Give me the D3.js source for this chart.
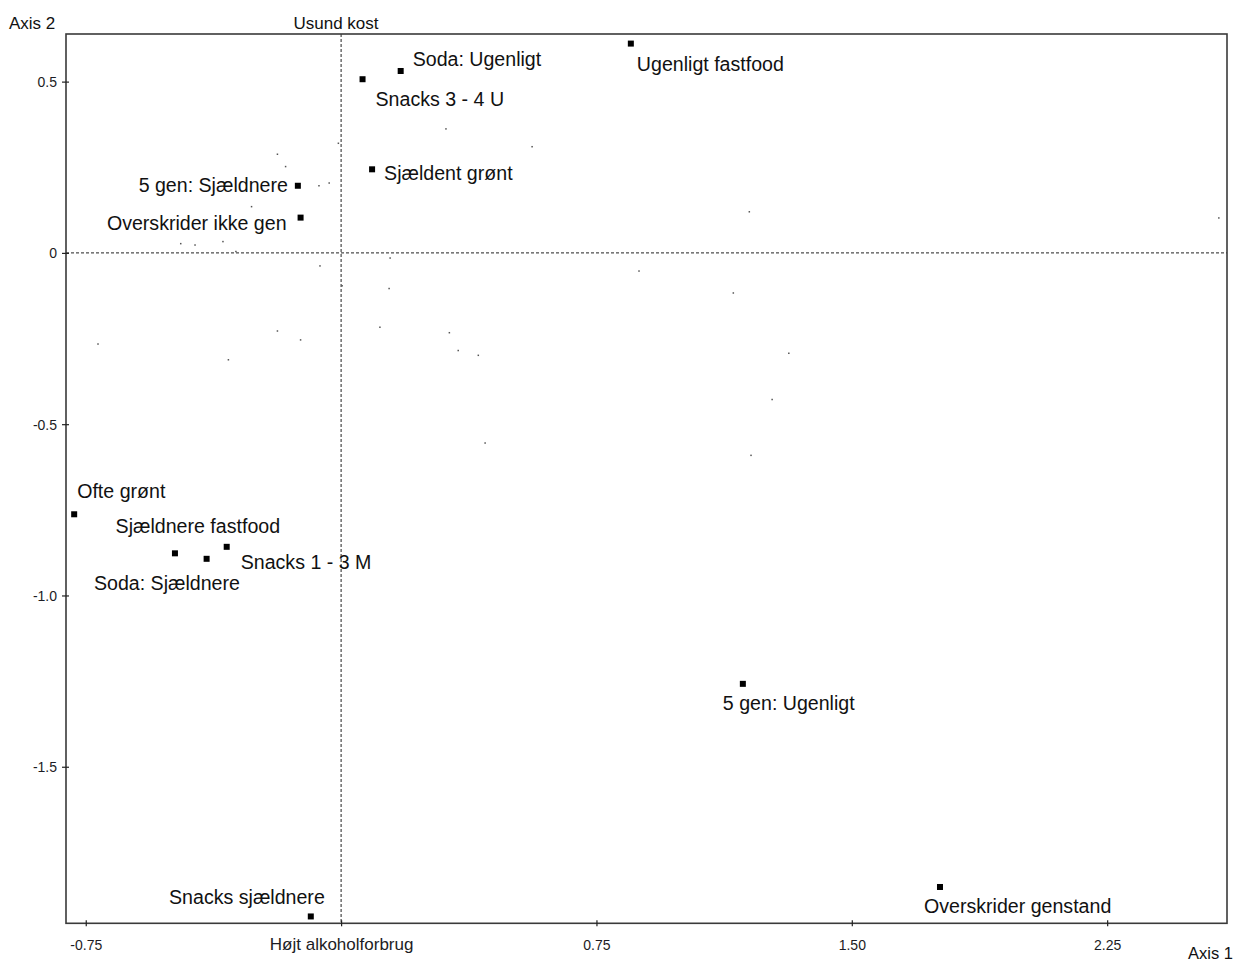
<!DOCTYPE html>
<html>
<head>
<meta charset="utf-8">
<script src="https://cdn.jsdelivr.net/npm/d3@7"></script>
<style>
  html, body { margin: 0; padding: 0; background: #fff; }
  svg { display: block; font-family: "Liberation Sans", Arial, sans-serif; }
</style>
</head>
<body>
<svg id="chart" width="1235" height="961"></svg>
<script>
// Category points (Axis 1, Axis 2 coordinates)
const categories = [
  "Snacks 3 - 4 U", "Soda: Ugenligt", "Ugenligt fastfood", "Sjældent grønt",
  "5 gen: Sjældnere", "Overskrider ikke gen", "Ofte grønt", "Soda: Sjældnere",
  "Sjældnere fastfood", "Snacks 1 - 3 M", "5 gen: Ugenligt", "Overskrider genstand",
  "Snacks sjældnere"
];
const axis1Values = [0.063, 0.175, 0.851, 0.091, -0.127, -0.119, -0.784, -0.488, -0.395, -0.336, 1.180, 1.759, -0.089];
const axis2Values = [0.507, 0.531, 0.611, 0.244, 0.196, 0.103, -0.763, -0.877, -0.893, -0.858, -1.258, -1.851, -1.937];

// Individual observations (small dots)
const obsAxis1 = [0.308, 0.561, -0.187, -0.163, -0.008, -0.065, -0.035, -0.263, -0.471, -0.429, -0.347, -0.309,
  0.144, -0.062, 0.003, 0.141, 0.114, 0.318, -0.187, -0.119, -0.714, -0.331, 0.344, 0.403,
  1.199, 2.578, 0.875, 1.152, 1.315, 1.266, 1.204, 0.423];
const obsAxis2 = [0.362, 0.310, 0.288, 0.252, 0.320, 0.196, 0.204, 0.135, 0.027, 0.023, 0.033, 0.004,
  -0.015, -0.038, -0.096, -0.104, -0.217, -0.233, -0.228, -0.254, -0.266, -0.312, -0.285, -0.299,
  0.120, 0.102, -0.053, -0.117, -0.293, -0.428, -0.591, -0.555];

// Tick values and their labels
const xTickValues = [-0.75, 0, 0.75, 1.5, 2.25];
const xTickLabels = ["-0.75", "Højt alkoholforbrug", "0.75", "1.50", "2.25"];
const yTickValues = [0.5, 0, -0.5, -1.0, -1.5];
const yTickLabels = ["0.5", "0", "-0.5", "-1.0", "-1.5"];

// Label placement around each marker (pixels): [dx, dy, anchor]
const labelPlacement = {
  "Snacks 3 - 4 U": [13, 27, "start"],
  "Soda: Ugenligt": [12, -5, "start"],
  "Ugenligt fastfood": [6, 27, "start"],
  "Sjældent grønt": [12, 11, "start"],
  "5 gen: Sjældnere": [-10, 6, "end"],
  "Overskrider ikke gen": [-14, 12, "end"],
  "Ofte grønt": [3, -16, "start"],
  "Soda: Sjældnere": [-81, 37, "start"],
  "Sjældnere fastfood": [-91, -26, "start"],
  "Snacks 1 - 3 M": [14, 22, "start"],
  "5 gen: Ugenligt": [-20, 26, "start"],
  "Overskrider genstand": [-16, 26, "start"],
  "Snacks sjældnere": [14, -12, "end"]
};

const svg = d3.select("#chart");
const plotLeft = 66, plotRight = 1227, plotTop = 34, plotBottom = 923.3;

const x = d3.scaleLinear().domain([-0.808, 2.602]).range([plotLeft, plotRight]);
const y = d3.scaleLinear().domain([-1.957, 0.639]).range([plotBottom, plotTop]);

// Reference lines through the origin
svg.append("line")
  .attr("x1", x(0)).attr("x2", x(0)).attr("y1", plotTop).attr("y2", plotBottom)
  .attr("stroke", "#222").attr("stroke-width", 1).attr("stroke-dasharray", "3,2");
svg.append("line")
  .attr("x1", plotLeft).attr("x2", plotRight).attr("y1", y(0)).attr("y2", y(0))
  .attr("stroke", "#222").attr("stroke-width", 1).attr("stroke-dasharray", "3,2");

// Frame
svg.append("rect")
  .attr("x", plotLeft).attr("y", plotTop)
  .attr("width", plotRight - plotLeft).attr("height", plotBottom - plotTop)
  .attr("fill", "none").attr("stroke", "#3a3a3a").attr("stroke-width", 1.6);

// Bottom axis
const xAxis = d3.axisBottom(x)
  .tickValues(xTickValues)
  .tickFormat((d, i) => xTickLabels[i])
  .tickSizeOuter(0).tickSizeInner(3).tickPadding(0);
const gx = svg.append("g").attr("transform", `translate(0,${plotBottom})`).call(xAxis);
gx.select(".domain").remove();
gx.selectAll(".tick line").attr("y1", -3).attr("y2", 3).attr("stroke", "#222").attr("stroke-width", 1.2);
gx.selectAll(".tick text")
  .attr("y", 27).attr("dy", null)
  .attr("fill", "#1c1c24")
  .style("font-family", "'Liberation Sans', Arial, sans-serif")
  .style("font-size", d => d === 0 ? "17px" : "14px");

// Left axis
const yAxis = d3.axisLeft(y)
  .tickValues(yTickValues)
  .tickFormat((d, i) => yTickLabels[i])
  .tickSizeOuter(0).tickSizeInner(4).tickPadding(0);
const gy = svg.append("g").attr("transform", `translate(${plotLeft},0)`).call(yAxis);
gy.select(".domain").remove();
gy.selectAll(".tick line").attr("x1", -4).attr("x2", 3).attr("stroke", "#222").attr("stroke-width", 1.2);
gy.selectAll(".tick text")
  .attr("x", -9).attr("dy", "0.35em")
  .attr("fill", "#1c1c24")
  .style("font-family", "'Liberation Sans', Arial, sans-serif")
  .style("font-size", "14px");

// Axis titles
svg.append("text").attr("x", 9).attr("y", 29).text("Axis 2")
  .attr("font-size", 17).attr("fill", "#111");
svg.append("text").attr("x", 336).attr("y", 29).attr("text-anchor", "middle").text("Usund kost")
  .attr("font-size", 17).attr("fill", "#111");
svg.append("text").attr("x", 1233).attr("y", 959).attr("text-anchor", "end").text("Axis 1")
  .attr("font-size", 16.5).attr("fill", "#111");

// Observation dots
const obs = obsAxis1.map((v, i) => ({ a1: v, a2: obsAxis2[i] }));
svg.append("g").selectAll("rect").data(obs).join("rect")
  .attr("x", d => x(d.a1) - 0.75).attr("y", d => y(d.a2) - 0.75)
  .attr("width", 1.5).attr("height", 1.5).attr("fill", "#555");

// Category markers and labels
const pts = categories.map((c, i) => ({ name: c, a1: axis1Values[i], a2: axis2Values[i] }));
const gp = svg.append("g");
gp.selectAll("rect").data(pts).join("rect")
  .attr("x", d => x(d.a1) - 3).attr("y", d => y(d.a2) - 3)
  .attr("width", 6).attr("height", 6).attr("fill", "#000");
gp.selectAll("text").data(pts).join("text")
  .attr("x", d => x(d.a1) + labelPlacement[d.name][0])
  .attr("y", d => y(d.a2) + labelPlacement[d.name][1])
  .attr("text-anchor", d => labelPlacement[d.name][2])
  .attr("font-size", 19.6).attr("fill", "#111")
  .text(d => d.name);
</script>
</body>
</html>
